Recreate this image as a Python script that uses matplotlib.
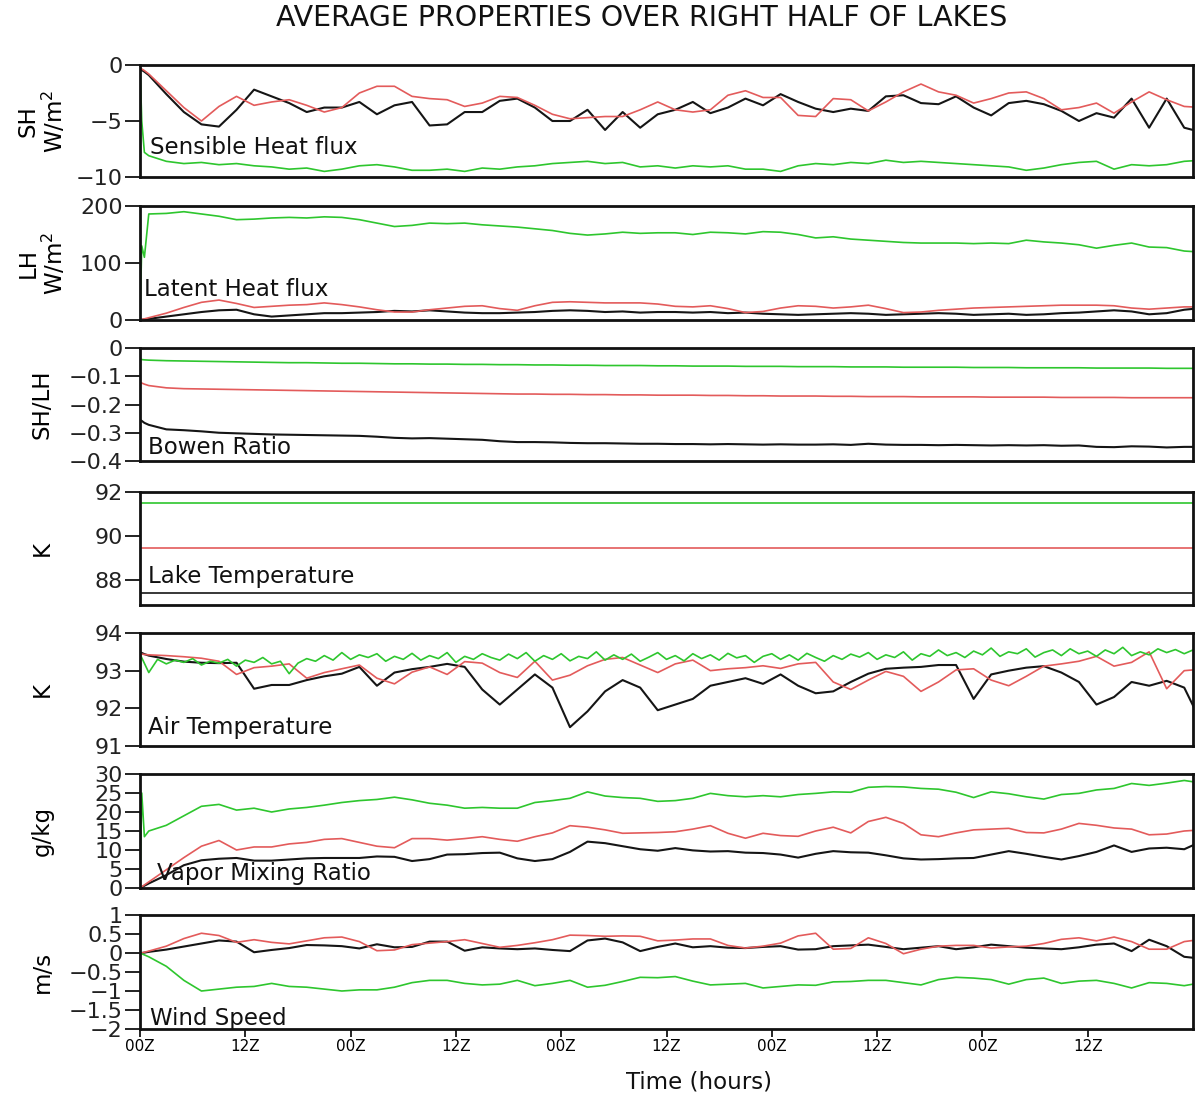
import numpy as np
import matplotlib
matplotlib.use('Agg')
import matplotlib.pyplot as plt
from matplotlib.ticker import FuncFormatter

plt.rcParams['font.family'] = ['DejaVu Sans']

# time axis (hours): three spin-up samples, then every 2 h
hours = np.concatenate([[0.0, 0.2, 0.5], np.arange(1, 122, 2)])
# hourly axis for the noisier air temperature series
hours_hourly = np.arange(0, 121)

# rows: spin-up | 1-19 h | 21-39 | 41-59 | 61-79 | 81-99 | 101-119 | 121
sh_black = [-0.4, -0.45, -0.6,
            -0.9, -2.6, -4.2, -5.3, -5.5, -4.0, -2.2, -2.8, -3.4, -4.2,
            -3.8, -3.8, -3.3, -4.4, -3.6, -3.3, -5.4, -5.3, -4.2, -4.2,
            -3.2, -3.0, -3.8, -5.0, -5.0, -4.0, -5.8, -4.2, -5.6, -4.4,
            -4.0, -3.3, -4.3, -3.8, -3.0, -3.6, -2.6, -3.3, -3.9, -4.2,
            -3.9, -4.1, -2.8, -2.7, -3.4, -3.5, -2.8, -3.8, -4.5, -3.4,
            -3.2, -3.5, -4.1, -5.0, -4.3, -4.7, -3.0, -5.6, -3.0, -5.6,
            -6.0]
sh_red = [-0.3, -0.35, -0.5,
          -0.8, -2.3, -3.8, -5.0, -3.7, -2.8, -3.6, -3.3, -3.1, -3.6,
          -4.2, -3.8, -2.5, -1.9, -1.9, -2.8, -3.0, -3.1, -3.7, -3.4,
          -2.8, -2.9, -3.6, -4.4, -4.8, -4.7, -4.6, -4.6, -4.0, -3.3,
          -4.0, -4.2, -4.0, -2.7, -2.3, -2.9, -2.9, -4.5, -4.6, -3.0,
          -3.1, -4.1, -3.3, -2.4, -1.7, -2.4, -2.7, -3.4, -3.0, -2.5,
          -2.4, -3.0, -4.0, -3.8, -3.4, -4.3, -3.3, -2.4, -3.1, -3.7,
          -3.8]
sh_green = [0.0, -5.0, -7.8,
            -8.1, -8.6, -8.8, -8.7, -8.9, -8.8, -9.0, -9.1, -9.3, -9.2,
            -9.5, -9.3, -9.0, -8.9, -9.1, -9.4, -9.4, -9.3, -9.5, -9.2,
            -9.3, -9.1, -9.0, -8.8, -8.7, -8.6, -8.8, -8.7, -9.1, -9.0,
            -9.2, -9.0, -9.1, -9.0, -9.3, -9.3, -9.5, -9.0, -8.8, -8.9,
            -8.7, -8.8, -8.5, -8.7, -8.6, -8.7, -8.8, -8.9, -9.0, -9.1,
            -9.4, -9.2, -8.9, -8.7, -8.6, -9.3, -8.9, -9.0, -8.9, -8.6,
            -8.5]

lh_black = [0, 0.5, 1,
            2, 6, 10, 14, 17, 18, 10, 6, 8, 10,
            12, 12, 13, 14, 16, 15, 17, 15, 13, 12,
            12, 13, 14, 16, 17, 16, 14, 15, 13, 14,
            14, 13, 14, 12, 13, 11, 10, 9, 10, 11,
            12, 11, 9, 10, 11, 12, 11, 9, 10, 11,
            9, 10, 12, 13, 15, 17, 15, 10, 12, 18,
            21]
lh_red = [0, 1, 2,
          4, 12, 22, 31, 35, 29, 22, 24, 26, 27,
          30, 27, 23, 18, 14, 14, 18, 21, 24, 25,
          20, 17, 25, 31, 32, 31, 30, 30, 30, 28,
          24, 23, 25, 20, 13, 15, 21, 25, 24, 21,
          23, 26, 20, 13, 14, 17, 19, 21, 22, 23,
          24, 25, 26, 26, 26, 25, 21, 19, 21, 23,
          23]
lh_green = [0, 130, 110,
            186, 187, 190, 186, 182, 176, 177, 179, 180, 179,
            181, 180, 176, 170, 164, 166, 170, 169, 170, 167,
            165, 163, 160, 157, 152, 149, 151, 154, 152, 153,
            153, 150, 154, 153, 151, 155, 154, 150, 144, 146,
            142, 140, 138, 136, 135, 135, 135, 134, 135, 134,
            140, 137, 135, 132, 126, 131, 135, 128, 127, 121,
            119]

bowen_black = [-0.255, -0.258, -0.265,
               -0.272, -0.288, -0.291, -0.295, -0.300, -0.302, -0.304, -0.306, -0.307, -0.308,
               -0.309, -0.310, -0.311, -0.314, -0.318, -0.320, -0.319, -0.321, -0.323, -0.325,
               -0.330, -0.333, -0.333, -0.334, -0.336, -0.337, -0.337, -0.338, -0.339, -0.339,
               -0.340, -0.340, -0.341, -0.340, -0.341, -0.342, -0.341, -0.342, -0.342, -0.341,
               -0.343, -0.339, -0.342, -0.343, -0.343, -0.344, -0.343, -0.344, -0.345, -0.344,
               -0.345, -0.344, -0.346, -0.345, -0.350, -0.351, -0.348, -0.349, -0.352, -0.350,
               -0.350]
bowen_red = [-0.122, -0.124, -0.128,
             -0.133, -0.141, -0.144, -0.145, -0.146, -0.147, -0.148, -0.149, -0.150, -0.151,
             -0.152, -0.153, -0.154, -0.155, -0.156, -0.157, -0.158, -0.159, -0.160, -0.161,
             -0.162, -0.163, -0.163, -0.164, -0.164, -0.165, -0.165, -0.166, -0.166, -0.167,
             -0.167, -0.167, -0.168, -0.168, -0.169, -0.169, -0.170, -0.170, -0.170, -0.171,
             -0.171, -0.172, -0.172, -0.172, -0.173, -0.173, -0.173, -0.173, -0.174, -0.174,
             -0.174, -0.174, -0.175, -0.175, -0.175, -0.175, -0.176, -0.176, -0.176, -0.176,
             -0.176]
bowen_green = [-0.040, -0.041, -0.042,
               -0.043, -0.045, -0.046, -0.047, -0.048, -0.049, -0.050, -0.051, -0.052, -0.052,
               -0.053, -0.054, -0.054, -0.055, -0.056, -0.056, -0.057, -0.057, -0.058, -0.058,
               -0.059, -0.059, -0.060, -0.060, -0.061, -0.061, -0.062, -0.062, -0.062, -0.063,
               -0.063, -0.064, -0.064, -0.064, -0.065, -0.065, -0.065, -0.066, -0.066, -0.066,
               -0.067, -0.067, -0.067, -0.068, -0.068, -0.068, -0.068, -0.069, -0.069, -0.069,
               -0.070, -0.070, -0.070, -0.070, -0.071, -0.071, -0.071, -0.071, -0.072, -0.072,
               -0.072]

# lake surface temperature is held fixed
lake_black = 87.4
lake_red = 89.45
lake_green = 91.52

air_black = [93.49, 93.47, 93.44,
             93.40, 93.31, 93.24, 93.21, 93.20, 93.21, 92.52, 92.62, 92.62, 92.75,
             92.85, 92.92, 93.10, 92.60, 92.95, 93.04, 93.10, 93.18, 93.10, 92.50,
             92.10, 92.50, 92.90, 92.55, 91.50, 91.92, 92.45, 92.75, 92.55, 91.95,
             92.10, 92.25, 92.60, 92.70, 92.80, 92.65, 92.90, 92.60, 92.40, 92.45,
             92.70, 92.92, 93.05, 93.08, 93.10, 93.15, 93.15, 92.25, 92.90, 93.00,
             93.08, 93.12, 92.95, 92.70, 92.10, 92.30, 92.70, 92.60, 92.73, 92.55,
             91.60]
air_red = [93.44, 93.44, 93.43,
           93.42, 93.40, 93.37, 93.33, 93.25, 92.90, 93.08, 93.12, 93.18, 92.80,
           92.95, 93.05, 93.15, 92.80, 92.65, 92.96, 93.10, 92.90, 93.24, 93.20,
           92.95, 92.82, 93.25, 92.75, 92.88, 93.13, 93.30, 93.35, 93.15, 92.95,
           93.18, 93.28, 93.00, 93.05, 93.08, 93.13, 93.06, 93.18, 93.22, 92.70,
           92.50, 92.75, 92.98, 92.85, 92.45, 92.70, 93.02, 93.05, 92.75, 92.60,
           92.85, 93.12, 93.18, 93.25, 93.38, 93.12, 93.22, 93.50, 92.52, 93.00,
           93.04]
# hourly, rows of ten: 0-9 h, 10-19 h, ... 110-119 h, then 120 h
air_green = [93.44, 92.95, 93.30, 93.18, 93.28, 93.22, 93.32, 93.15, 93.25, 93.20,
             93.30, 93.12, 93.28, 93.22, 93.35, 93.18, 93.25, 92.92, 93.20, 93.32,
             93.25, 93.40, 93.28, 93.48, 93.30, 93.42, 93.35, 93.45, 93.25, 93.38,
             93.30, 93.46, 93.28, 93.40, 93.32, 93.48, 93.22, 93.38, 93.30, 93.45,
             93.35, 93.28, 93.44, 93.32, 93.48, 93.25, 93.40, 93.30, 93.45, 93.26,
             93.38, 93.32, 93.50, 93.28, 93.42, 93.30, 93.44, 93.25, 93.36, 93.48,
             93.30, 93.40, 93.26, 93.45, 93.32, 93.42, 93.28, 93.46, 93.34, 93.40,
             93.22, 93.38, 93.45, 93.30, 93.42, 93.28, 93.46, 93.35, 93.25, 93.40,
             93.30, 93.44, 93.36, 93.48, 93.30, 93.42, 93.35, 93.50, 93.28, 93.45,
             93.38, 93.55, 93.40, 93.48, 93.35, 93.52, 93.42, 93.60, 93.38, 93.50,
             93.45, 93.58, 93.36, 93.48, 93.55, 93.40, 93.58, 93.45, 93.52, 93.38,
             93.55, 93.45, 93.62, 93.40, 93.50, 93.42, 93.58, 93.48, 93.56, 93.45,
             93.55]

q_black = [0.0, 0.2, 0.6,
           1.2, 3.4, 6.0, 7.3, 7.7, 7.9, 7.2, 7.2, 7.5, 7.8,
           7.9, 7.9, 7.9, 8.3, 8.2, 7.1, 7.6, 8.8, 8.9, 9.2,
           9.3, 7.8, 7.1, 7.6, 9.5, 12.2, 11.8, 11.0, 10.2, 9.8,
           10.5, 9.9, 9.6, 9.7, 9.3, 9.2, 8.8, 8.0, 9.0, 9.7,
           9.4, 9.3, 8.6, 7.8, 7.5, 7.6, 7.8, 7.9, 8.8, 9.7,
           9.0, 8.2, 7.5, 8.4, 9.5, 11.2, 9.5, 10.4, 10.6, 10.2,
           12.3]
q_red = [0.0, 0.3, 0.8,
         1.6, 4.8, 8.0, 11.0, 12.5, 10.0, 10.8, 10.8, 11.6, 12.0,
         12.8, 13.0, 12.0, 11.0, 10.6, 13.0, 13.0, 12.6, 13.0, 13.5,
         12.8, 12.3, 13.5, 14.5, 16.4, 16.0, 15.3, 14.4, 14.5, 14.6,
         14.8, 15.5, 16.4, 14.4, 13.1, 14.4, 13.8, 13.6, 15.0, 16.0,
         14.5, 17.5, 18.6, 17.0, 14.0, 13.5, 14.5, 15.3, 15.5, 15.7,
         14.6, 14.5, 15.5, 17.0, 16.5, 15.8, 15.5, 14.0, 14.2, 15.0,
         15.3]
q_green = [0.0, 25.0, 13.5,
           15.0, 16.5, 19.0, 21.5, 22.0, 20.5, 21.0, 20.0, 20.8, 21.2,
           21.8, 22.5, 23.0, 23.3, 23.9, 23.2, 22.3, 21.8, 21.0, 21.2,
           21.0, 21.0, 22.5, 23.0, 23.6, 25.3, 24.2, 23.8, 23.6, 22.8,
           23.0, 23.6, 24.9, 24.3, 24.0, 24.3, 24.0, 24.6, 24.9, 25.3,
           25.2, 26.5, 26.7, 26.6, 26.2, 26.0, 25.2, 23.8, 25.3, 24.8,
           24.0, 23.4, 24.6, 24.9, 25.8, 26.2, 27.5, 27.0, 27.6, 28.3,
           27.6]

wind_black = [0.0, 0.0, 0.01,
              0.03, 0.09, 0.17, 0.25, 0.33, 0.30, 0.02, 0.08, 0.13, 0.21,
              0.20, 0.18, 0.12, 0.23, 0.15, 0.16, 0.30, 0.30, 0.06, 0.15,
              0.12, 0.10, 0.12, 0.08, 0.05, 0.33, 0.38, 0.28, 0.05, 0.16,
              0.25, 0.15, 0.18, 0.14, 0.13, 0.16, 0.18, 0.09, 0.10, 0.18,
              0.20, 0.22, 0.16, 0.10, 0.14, 0.18, 0.10, 0.15, 0.22, 0.18,
              0.14, 0.12, 0.10, 0.15, 0.22, 0.25, 0.05, 0.35, 0.18, -0.10,
              -0.15]
wind_red = [0.0, 0.0, 0.02,
            0.05, 0.18, 0.38, 0.52, 0.46, 0.28, 0.35, 0.28, 0.24, 0.32,
            0.40, 0.42, 0.30, 0.06, 0.08, 0.22, 0.26, 0.30, 0.35, 0.25,
            0.15, 0.20, 0.27, 0.35, 0.47, 0.46, 0.44, 0.45, 0.44, 0.32,
            0.34, 0.37, 0.37, 0.20, 0.13, 0.18, 0.26, 0.45, 0.52, 0.10,
            0.12, 0.40, 0.25, -0.02, 0.10, 0.18, 0.20, 0.20, 0.13, 0.16,
            0.18, 0.25, 0.36, 0.40, 0.32, 0.42, 0.30, 0.10, 0.10, 0.30,
            0.36]
wind_green = [0.0, -0.02, -0.05,
              -0.10, -0.35, -0.72, -1.00, -0.95, -0.90, -0.88, -0.80, -0.88, -0.90,
              -0.95, -1.00, -0.97, -0.97, -0.90, -0.78, -0.72, -0.72, -0.80, -0.84,
              -0.82, -0.72, -0.86, -0.80, -0.72, -0.90, -0.85, -0.75, -0.64, -0.65,
              -0.62, -0.74, -0.84, -0.82, -0.80, -0.92, -0.88, -0.84, -0.85, -0.76,
              -0.75, -0.72, -0.72, -0.78, -0.84, -0.70, -0.64, -0.66, -0.70, -0.82,
              -0.70, -0.66, -0.80, -0.74, -0.72, -0.80, -0.92, -0.78, -0.80, -0.86,
              -0.78]

xtick_hours = [0, 12, 24, 36, 48, 60, 72, 84, 96, 108]
xtick_labels = ['00Z', '12Z', '00Z', '12Z', '00Z', '12Z', '00Z', '12Z', '00Z', '12Z']

BLACK = '#151515'
RED = '#e35b5b'
GREEN = '#2ec62e'

panels = [
    dict(series=(sh_black, sh_red, sh_green), ylim=(-10, 0), ticks=[-10, -5, 0],
         ylabel='SH\nW/m$^2$', name='Sensible Heat flux', ny=0.205, nx=0.0095),
    dict(series=(lh_black, lh_red, lh_green), ylim=(0, 200), ticks=[0, 100, 200],
         ylabel='LH\nW/m$^2$', name='Latent Heat flux', ny=0.21, nx=0.004),
    dict(series=(bowen_black, bowen_red, bowen_green), ylim=(-0.4, 0),
         ticks=[-0.4, -0.3, -0.2, -0.1, 0], ylabel='SH/LH', name='Bowen Ratio',
         ny=0.06, nx=0.008),
    dict(lake=(lake_black, lake_red, lake_green), ylim=(86.85, 92), ticks=[88, 90, 92],
         ylabel='K', name='Lake Temperature', ny=0.195, nx=0.008),
    dict(series=(air_black, air_red, air_green), ylim=(91, 94), ticks=[91, 92, 93, 94],
         ylabel='K', name='Air Temperature', ny=0.106, nx=0.008, hourly_green=True),
    dict(series=(q_black, q_red, q_green), ylim=(0, 30), ticks=[0, 5, 10, 15, 20, 25, 30],
         ylabel='g/kg', name='Vapor Mixing Ratio', ny=0.07, nx=0.016),
    dict(series=(wind_black, wind_red, wind_green), ylim=(-2, 1),
         ticks=[-2, -1.5, -1, -0.5, 0, 0.5, 1], ylabel='m/s', name='Wind Speed',
         ny=0.035, nx=0.0095),
]

# panel frames in pixels (top, bottom) on a 1195 x 1101 canvas
frames = [(65, 177), (206, 320), (348, 461), (492, 605), (633, 746), (774, 888), (915, 1029)]
W, H = 1195, 1101
left_px, right_px = 140, 1193

fig = plt.figure(figsize=(W / 100, H / 100), dpi=100)
fig.set_facecolor('white')

fmt = FuncFormatter(lambda v, pos: f'{v:g}'.replace('-', '\u2212'))

for i, (p, (top, bot)) in enumerate(zip(panels, frames)):
    ax = fig.add_axes([left_px / W, 1 - bot / H, (right_px - left_px) / W, (bot - top) / H])

    if 'lake' in p:
        for val, col in zip(p['lake'], (BLACK, RED, GREEN)):
            ax.axhline(val, color=col, lw=1.2)
    else:
        blk, red, grn = p['series']
        ax.plot(hours, blk, color=BLACK, lw=1.5)
        ax.plot(hours, red, color=RED, lw=1.2)
        green_t = hours_hourly if p.get('hourly_green') else hours
        ax.plot(green_t, grn, color=GREEN, lw=1.2)

    ax.set_xlim(0, 120)
    ax.set_ylim(*p['ylim'])
    ax.set_yticks(p['ticks'])
    ax.yaxis.set_major_formatter(fmt)
    ax.tick_params(axis='y', direction='out', length=11, width=1.4, pad=1.5,
                   labelsize=16, colors='#222222')
    for s in ax.spines.values():
        s.set_linewidth(2.0)
        s.set_color('#111111')

    ax.set_ylabel(p['ylabel'], fontsize=16.5, va='center', linespacing=1.05)
    ax.yaxis.set_label_coords(-0.093, 0.5)

    ax.text(p['nx'], p['ny'], p['name'], transform=ax.transAxes, fontsize=16.5,
            ha='left', va='baseline', color='#111111')

    if i < len(panels) - 1:
        ax.set_xticks([])
    else:
        ax.set_xticks(xtick_hours)
        ax.set_xticklabels(xtick_labels)
        ax.tick_params(axis='x', direction='out', length=6, width=1.2, pad=1,
                       labelsize=11)

fig.text(642 / W, 1 - 18 / H, 'AVERAGE PROPERTIES OVER RIGHT HALF OF LAKES',
         ha='center', va='center', fontsize=20.5, color='#111111')
fig.text(699 / W, 1 - 1082 / H, 'Time (hours)', ha='center', va='center',
         fontsize=16.5, color='#111111')

fig.savefig('out.png', dpi=100)
